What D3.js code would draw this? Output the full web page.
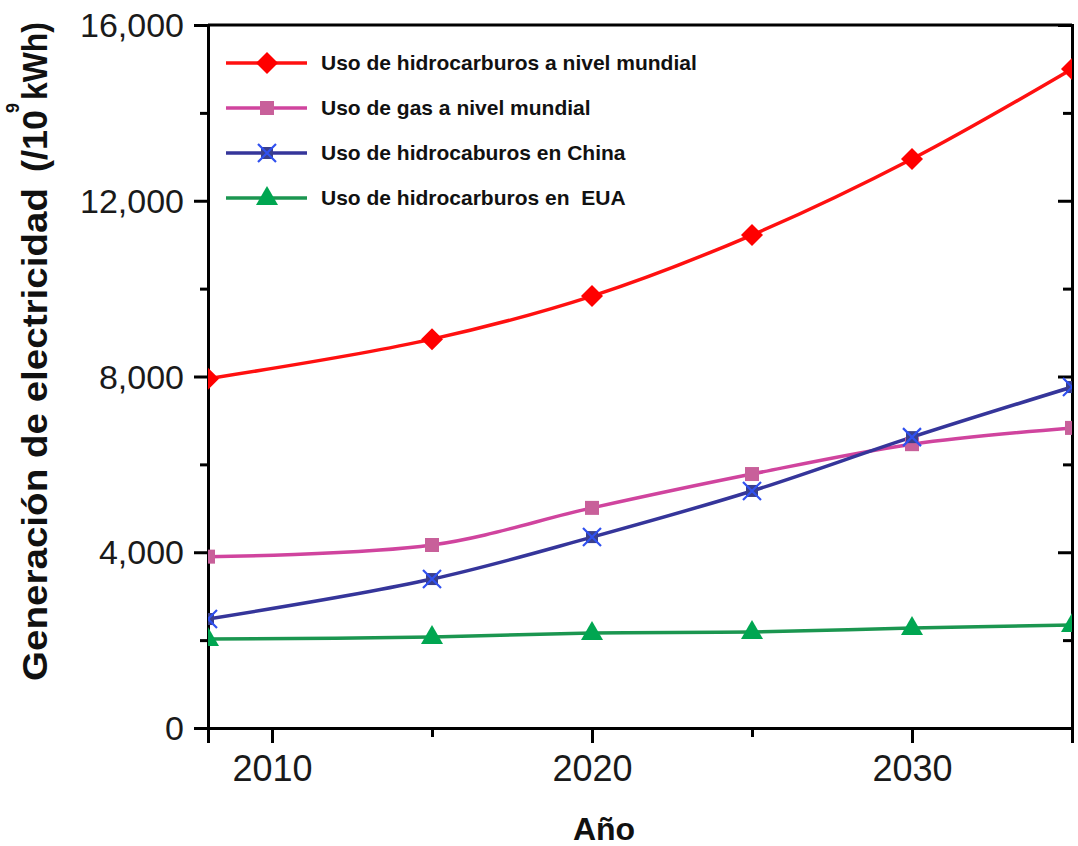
<!DOCTYPE html>
<html>
<head>
<meta charset="utf-8">
<script src="https://cdn.jsdelivr.net/npm/d3@7"></script>
<style>
  html, body { margin: 0; padding: 0; background: #ffffff; }
  svg { display: block; }
</style>
</head>
<body>
<svg id="chart" width="1078" height="846"></svg>
<script>
// Years of projection
const years = [2008, 2015, 2020, 2025, 2030, 2035];

// Electricity generation (10^9 kWh)
const worldHydrocarbons = [7950, 8850, 9830, 11220, 12950, 15000];
const worldGas          = [3900, 4165, 5010, 5780, 6460, 6830];
const chinaHydrocarbons = [2480, 3390, 4345, 5395, 6620, 7760];
const usaHydrocarbons   = [2025, 2070, 2160, 2185, 2275, 2345];

const seriesNames = [
  "Uso de hidrocarburos a nivel mundial",
  "Uso de gas a nivel mundial",
  "Uso de hidrocaburos en China",
  "Uso de hidrocarburos en  EUA"
];

const yTicks = [0, 4000, 8000, 12000, 16000];
const yMinorTicks = [2000, 6000, 10000, 14000];
const xTicks = [2010, 2020, 2030];
const xMinorTicks = [2015, 2025, 2035];

const xTitle = "Año";
const yTitleMain = "Generación de electricidad";
const yTitleUnitStart = "(/10";
const yTitleExponent = "9";
const yTitleUnitEnd = "kWh)";

const series = [
  { name: seriesNames[0], values: worldHydrocarbons, line: "#ff1010", marker: "#ff0000", shape: "diamond" },
  { name: seriesNames[1], values: worldGas,          line: "#d0449e", marker: "#c8609a", shape: "square" },
  { name: seriesNames[2], values: chinaHydrocarbons, line: "#35359a", marker: "#3050f0", shape: "cross" },
  { name: seriesNames[3], values: usaHydrocarbons,   line: "#1b9650", marker: "#00a651", shape: "triangle" }
];

const svg = d3.select("#chart");
const m = { left: 208, right: 1072, top: 25, bottom: 728 };

const x = d3.scaleLinear().domain([2008, 2035]).range([m.left, m.right]);
const y = d3.scaleLinear().domain([0, 16000]).range([m.bottom, m.top]);

// Clip area for plotted data
svg.append("defs").append("clipPath").attr("id", "plotClip")
  .append("rect")
  .attr("x", m.left).attr("y", m.top - 2)
  .attr("width", m.right - m.left).attr("height", m.bottom - m.top + 4);

const fmt = d3.format(",");
const tickFont = "'Liberation Sans', Arial, sans-serif";

// Left axis: major + minor outward ticks
const leftAxis = svg.append("g").attr("transform", `translate(${m.left},0)`)
  .call(d3.axisLeft(y).tickValues(yTicks).tickSize(14).tickPadding(10).tickFormat(fmt));
svg.append("g").attr("transform", `translate(${m.left},0)`)
  .call(d3.axisLeft(y).tickValues(yMinorTicks).tickSize(8).tickFormat(""))
  .select(".domain").remove();

// Right axis: inward ticks
svg.append("g").attr("transform", `translate(${m.right},0)`)
  .call(d3.axisLeft(y).tickValues(yTicks).tickSize(14).tickFormat(""));
svg.append("g").attr("transform", `translate(${m.right},0)`)
  .call(d3.axisLeft(y).tickValues(yMinorTicks).tickSize(9).tickFormat(""))
  .select(".domain").remove();

// Bottom axis
const bottomAxis = svg.append("g").attr("transform", `translate(0,${m.bottom})`)
  .call(d3.axisBottom(x).tickValues(xTicks).tickSize(15).tickPadding(12).tickFormat(d3.format("d")));
svg.append("g").attr("transform", `translate(0,${m.bottom})`)
  .call(d3.axisBottom(x).tickValues(xMinorTicks).tickSize(9).tickFormat(""))
  .select(".domain").remove();

// Top frame line
svg.append("line")
  .attr("x1", m.left).attr("x2", m.right)
  .attr("y1", m.top).attr("y2", m.top)
  .attr("stroke", "#000").attr("stroke-width", 3);

svg.selectAll(".domain").attr("stroke", "#000").attr("stroke-width", 3);
svg.selectAll(".tick line").attr("stroke", "#000").attr("stroke-width", 3);
svg.selectAll(".tick text").attr("fill", "#1a1a1a").style("font-family", tickFont);
leftAxis.selectAll(".tick text").style("font-size", "34px").attr("dy", "0.34em");
bottomAxis.selectAll(".tick text").style("font-size", "36px");

// Axis titles
svg.append("text")
  .attr("x", 604).attr("y", 840)
  .attr("text-anchor", "middle")
  .style("font-family", tickFont).style("font-weight", "bold").style("font-size", "32px")
  .attr("fill", "#111")
  .text(xTitle);

// Vertical title, drawn in rotated coordinates (x runs upward on screen)
const yTitleG = svg.append("g")
  .attr("transform", "translate(47,0) rotate(-90)")
  .style("font-family", tickFont).style("font-weight", "bold")
  .attr("fill", "#111");
yTitleG.append("text")
  .attr("x", -681).attr("y", 0)
  .attr("textLength", 493).attr("lengthAdjust", "spacingAndGlyphs")
  .style("font-size", "35px")
  .text(yTitleMain);
yTitleG.append("text")
  .attr("x", -172).attr("y", 0)
  .attr("textLength", 62).attr("lengthAdjust", "spacingAndGlyphs")
  .style("font-size", "35px")
  .text(yTitleUnitStart);
yTitleG.append("text")
  .attr("x", -113).attr("y", -28)
  .style("font-size", "18px")
  .text(yTitleExponent);
yTitleG.append("text")
  .attr("x", -100).attr("y", 0)
  .attr("textLength", 78).attr("lengthAdjust", "spacingAndGlyphs")
  .style("font-size", "35px")
  .text(yTitleUnitEnd);

// Marker drawing
function drawMarker(g, shape, color, cx, cy) {
  if (shape === "diamond") {
    g.append("path").attr("d", `M${cx},${cy - 11}L${cx + 11},${cy}L${cx},${cy + 11}L${cx - 11},${cy}Z`)
      .attr("fill", color);
  } else if (shape === "square") {
    g.append("rect").attr("x", cx - 7).attr("y", cy - 7).attr("width", 14).attr("height", 14)
      .attr("fill", color);
  } else if (shape === "cross") {
    g.append("rect").attr("x", cx - 6).attr("y", cy - 6).attr("width", 12).attr("height", 12)
      .attr("fill", "#3a3f8c");
    g.append("path").attr("d", `M${cx - 9},${cy - 9}L${cx + 9},${cy + 9}M${cx - 9},${cy + 9}L${cx + 9},${cy - 9}`)
      .attr("stroke", color).attr("stroke-width", 2.2).attr("fill", "none");
  } else if (shape === "triangle") {
    g.append("path").attr("d", `M${cx},${cy - 12}L${cx + 11},${cy + 7}L${cx - 11},${cy + 7}Z`)
      .attr("fill", color);
  }
}

const lineGen = d3.line()
  .x((d, i) => x(years[i]))
  .y(d => y(d))
  .curve(d3.curveCatmullRom.alpha(0.5));

const plot = svg.append("g").attr("clip-path", "url(#plotClip)");
series.forEach(s => {
  plot.append("path")
    .datum(s.values)
    .attr("d", lineGen)
    .attr("fill", "none")
    .attr("stroke", s.line)
    .attr("stroke-width", 3.5);
});
series.forEach(s => {
  const g = plot.append("g");
  s.values.forEach((v, i) => drawMarker(g, s.shape, s.marker, x(years[i]), y(v)));
});

// Legend
const legendRows = [63, 108, 153, 198];
series.forEach((s, i) => {
  const ly = legendRows[i];
  const g = svg.append("g");
  g.append("line").attr("x1", 226).attr("x2", 307).attr("y1", ly).attr("y2", ly)
    .attr("stroke", s.line).attr("stroke-width", 3.5);
  drawMarker(g, s.shape, s.marker, 267, ly);
  g.append("text")
    .attr("x", 321).attr("y", ly + 7)
    .style("font-family", tickFont).style("font-weight", "bold").style("font-size", "21px")
    .style("white-space", "pre")
    .attr("fill", "#111")
    .text(s.name);
});
</script>
</body>
</html>
